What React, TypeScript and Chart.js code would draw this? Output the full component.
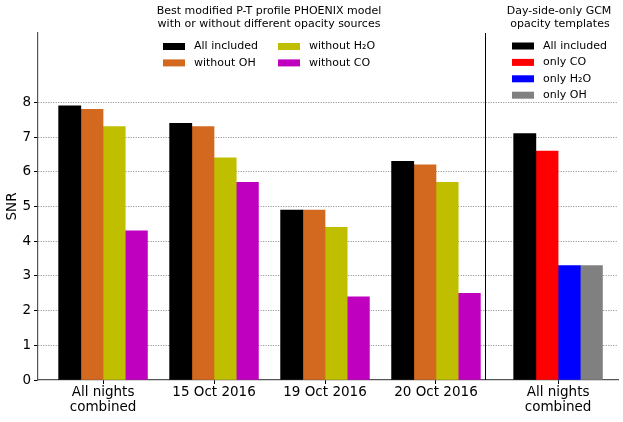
import { useEffect, useRef } from "react"
import { Chart, registerables, type ChartConfiguration, type Plugin } from "chart.js"

Chart.register(...registerables)
Chart.defaults.font.family = "'DejaVu Sans', sans-serif"
Chart.defaults.color = "#000"

// group labels along the x axis
const groupLabels = [
  ["All nights", "combined"],
  ["15 Oct 2016"],
  ["19 Oct 2016"],
  ["20 Oct 2016"],
  ["All nights", "combined"],
]

// PHOENIX model, one value per night group (first four groups)
const phoenixNames = ["All included", "without OH", "without H₂O", "without CO"]
const allIncluded = [7.9, 7.4, 4.9, 6.3]
const withoutOH = [7.8, 7.3, 4.9, 6.2]
const withoutH2O = [7.3, 6.4, 4.4, 5.7]
const withoutCO = [4.3, 5.7, 2.4, 2.5]

// GCM templates, all nights combined (last group)
const gcmNames = ["All included", "only CO", "only H₂O", "only OH"]
const gcmValues = [7.1, 6.6, 3.3, 3.3]

const yTicks = [0, 1, 2, 3, 4, 5, 6, 7, 8]

// layout
const groupPos = [0, 1, 2, 3, 4.1]
const barWidth = 0.2
const dividerX = 3.44
const phoenixColors = ["#000000", "#d2691e", "#bfbf00", "#bf00bf"]
const gcmColors = ["#000000", "#ff0000", "#0000ff", "#808080"]

const overlay: Plugin = {
  id: "overlay",
  afterDatasetsDraw(chart) {
    const { ctx, chartArea, scales } = chart
    const x = scales.x
    ctx.save()

    // divider between the two panels
    const dx = Math.round(x.getPixelForValue(dividerX)) + 0.5
    ctx.strokeStyle = "#000"
    ctx.lineWidth = 1
    ctx.beginPath()
    ctx.moveTo(dx, chartArea.top)
    ctx.lineTo(dx, chartArea.bottom)
    ctx.stroke()

    ctx.font = "11px 'DejaVu Sans'"
    ctx.fillStyle = "#000"
    ctx.textAlign = "center"
    ctx.textBaseline = "middle"
    ctx.fillText("Best modified P-T profile PHOENIX model", 269, 11)
    ctx.fillText("with or without different opacity sources", 269, 24)
    ctx.fillText("Day-side-only GCM", 559, 11)
    ctx.fillText("opacity templates", 560, 24)

    const drawEntry = (bx: number, cy: number, color: string, text: string) => {
      ctx.fillStyle = color
      ctx.fillRect(bx, cy - 3.5, 22, 7)
      ctx.fillStyle = "#000"
      ctx.textAlign = "left"
      ctx.fillText(text, bx + 31, cy)
    }
    const rowGap = 16.4
    phoenixNames.forEach((name, i) => {
      const col = Math.floor(i / 2)
      const row = i % 2
      drawEntry(col === 0 ? 163 : 278, 46.5 + row * rowGap, phoenixColors[i], name)
    })
    gcmNames.forEach((name, i) => {
      drawEntry(512, 46 + i * rowGap, gcmColors[i], name)
    })
    ctx.restore()
  },
}

export default function App() {
  const canvasRef = useRef<HTMLCanvasElement>(null)
  const chartRef = useRef<Chart | null>(null)

  useEffect(() => {
    if (!canvasRef.current) return
    if (chartRef.current) chartRef.current.destroy()

    const offsetOf = (j: number) => (j - 1.5) * barWidth
    const phoenixSeries = [allIncluded, withoutOH, withoutH2O, withoutCO]

    const datasets = [
      ...phoenixSeries.map((vals, j) => ({
        label: phoenixNames[j],
        data: vals.map((v, g) => ({ x: groupPos[g] + offsetOf(j), y: v })),
        backgroundColor: phoenixColors[j],
        borderWidth: 0,
      })),
      ...gcmValues.map((v, j) => ({
        label: gcmNames[j],
        data: [{ x: groupPos[4] + offsetOf(j), y: v }],
        backgroundColor: gcmColors[j],
        borderWidth: 0,
      })),
    ]

    const config: ChartConfiguration<"bar"> = {
      type: "bar",
      data: { datasets: datasets as any },
      options: {
        responsive: true,
        maintainAspectRatio: false,
        animation: false,
        grouped: false,
        categoryPercentage: 1,
        barPercentage: 1,
        layout: { padding: { top: 33, right: 5, left: 0, bottom: 0 } },
        plugins: {
          legend: { display: false },
          tooltip: { enabled: false },
        },
        scales: {
          x: {
            type: "linear",
            min: -0.586,
            max: 4.64,
            offset: false,
            afterBuildTicks: (scale) => {
              scale.ticks = groupPos.map((v) => ({ value: v }))
            },
            afterFit: (scale) => {
              scale.height = 42
            },
            ticks: {
              autoSkip: false,
              maxRotation: 0,
              padding: 1,
              font: { size: 13.5, lineHeight: 1.12 },
              color: "#000",
              callback: (value) => {
                const i = groupPos.indexOf(Number(value))
                return i >= 0 ? groupLabels[i] : ""
              },
            },
            grid: {
              offset: false,
              drawOnChartArea: false,
              tickLength: 4,
              tickColor: "#000",
              lineWidth: 1,
            },
            border: { color: "#555", width: 1.2 },
          },
          y: {
            min: 0,
            max: 10,
            afterBuildTicks: (scale) => {
              scale.ticks = [...yTicks, 9, 10].map((v) => ({ value: v }))
            },
            afterFit: (scale) => {
              scale.width = 38
            },
            title: {
              display: true,
              text: "SNR",
              font: { size: 13.5 },
              color: "#000",
              padding: { top: 4, bottom: 4 },
            },
            ticks: {
              padding: 3,
              font: { size: 13.5 },
              color: "#000",
              callback: (value) => (yTicks.includes(Number(value)) ? String(value) : ""),
            },
            grid: {
              color: (c) => (c.tick && c.tick.value > 0 && yTicks.includes(c.tick.value) ? "#888" : "rgba(0,0,0,0)"),
              tickColor: (c) => (c.tick && yTicks.includes(c.tick.value) ? "#000" : "rgba(0,0,0,0)"),
              tickBorderDash: [],
              tickLength: 4,
              lineWidth: 1,
            },
            border: { color: "#555", width: 1.2, dash: [1, 1.5] },
          },
        },
      },
      plugins: [overlay],
    }

    chartRef.current = new Chart(canvasRef.current, config)

    return () => {
      if (chartRef.current) {
        chartRef.current.destroy()
        chartRef.current = null
      }
    }
  }, [])

  return (
    <div style={{ position: "fixed", left: 0, top: 0, width: 623, height: 422, background: "#fff" }}>
      <canvas ref={canvasRef}></canvas>
    </div>
  )
}
